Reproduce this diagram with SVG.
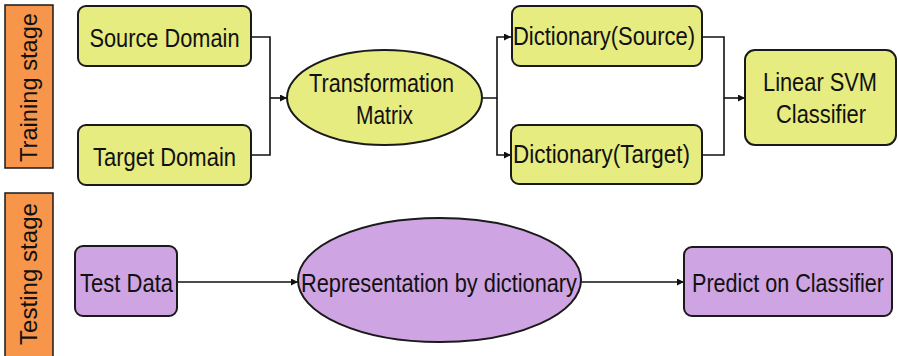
<svg xmlns="http://www.w3.org/2000/svg" width="898" height="356" viewBox="0 0 898 356">
<style>
.y{fill:#e6ec80;stroke:#1a1a1a;stroke-width:2}
.p{fill:#cfa4e2;stroke:#1a1a1a;stroke-width:2}
.o{fill:#f7954a;stroke:#1a1a1a;stroke-width:1.5}
text{font-family:"Liberation Sans",Arial,sans-serif;font-size:26px;fill:#111;text-anchor:middle}
.s{font-size:24px}
.c{fill:none;stroke:#111;stroke-width:1.6}
</style>
<defs>
<marker id="a" viewBox="0 0 10 10" refX="10" refY="5" markerWidth="7" markerHeight="7" orient="auto" markerUnits="userSpaceOnUse"><path d="M0,0L10,5L0,10z" fill="#111"/></marker>
</defs>
<rect width="898" height="356" fill="#fff"/>
<g id="training-stage"><rect class="o" x="5" y="5" width="48" height="163"/><text class="s" transform="translate(37,87.5) rotate(-90)" textLength="149" lengthAdjust="spacingAndGlyphs">Training stage</text></g>
<g id="testing-stage"><rect class="o" x="5" y="193" width="48" height="170"/><text class="s" transform="translate(37,274) rotate(-90)" textLength="142" lengthAdjust="spacingAndGlyphs">Testing stage</text></g>
<g id="connectors">
<path class="c" d="M251,37H270V155H251"/>
<path class="c" d="M270,98H287" marker-end="url(#a)"/>
<path class="c" d="M482,98H497V37H511" marker-end="url(#a)"/>
<path class="c" d="M497,98V155H511" marker-end="url(#a)"/>
<path class="c" d="M702,37H724V155H702"/>
<path class="c" d="M724,98H745" marker-end="url(#a)"/>
<path class="c" d="M177,282H298" marker-end="url(#a)"/>
<path class="c" d="M581,282H684" marker-end="url(#a)"/>
</g>
<g id="source-domain"><rect class="y" x="78" y="6" width="173" height="60" rx="8"/><text x="164.5" y="47" textLength="150" lengthAdjust="spacingAndGlyphs">Source Domain</text></g>
<g id="target-domain"><rect class="y" x="78" y="125" width="173" height="60" rx="8"/><text x="164.5" y="166" textLength="143" lengthAdjust="spacingAndGlyphs">Target Domain</text></g>
<g id="transformation-matrix"><ellipse class="y" cx="384.5" cy="97.5" rx="97.5" ry="47.5"/><text x="381.5" y="92" textLength="145" lengthAdjust="spacingAndGlyphs">Transformation</text><text x="384.5" y="124" textLength="57" lengthAdjust="spacingAndGlyphs">Matrix</text></g>
<g id="dictionary-source"><rect class="y" x="512" y="6" width="190" height="60" rx="8"/><text x="604" y="45" textLength="182" lengthAdjust="spacingAndGlyphs">Dictionary(Source)</text></g>
<g id="dictionary-target"><rect class="y" x="511" y="125" width="191" height="59" rx="8"/><text x="601.5" y="163" textLength="177" lengthAdjust="spacingAndGlyphs">Dictionary(Target)</text></g>
<g id="linear-svm"><rect class="y" x="745" y="50" width="151" height="95" rx="10"/><text x="820" y="91" textLength="114" lengthAdjust="spacingAndGlyphs">Linear SVM</text><text x="821" y="123" textLength="90" lengthAdjust="spacingAndGlyphs">Classifier</text></g>
<g id="test-data"><rect class="p" x="75" y="246" width="102" height="70" rx="8"/><text x="126.5" y="292" textLength="93" lengthAdjust="spacingAndGlyphs">Test Data</text></g>
<g id="representation"><ellipse class="p" cx="439.5" cy="280" rx="141.5" ry="62"/><text x="439" y="292" textLength="276" lengthAdjust="spacingAndGlyphs">Representation by dictionary</text></g>
<g id="predict"><rect class="p" x="684" y="247" width="208" height="69" rx="8"/><text x="788" y="292" textLength="192" lengthAdjust="spacingAndGlyphs">Predict on Classifier</text></g>
</svg>
